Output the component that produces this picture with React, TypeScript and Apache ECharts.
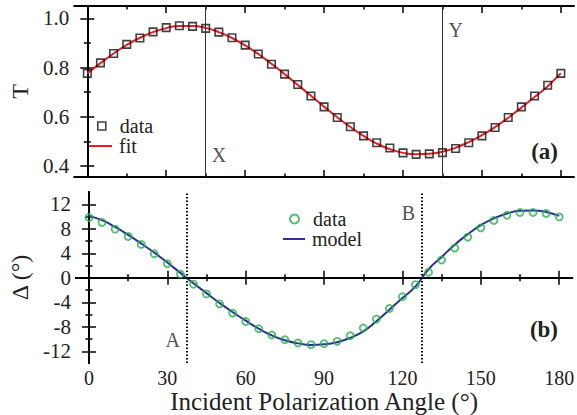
import React, { useEffect, useRef } from "react";
import * as echarts from "echarts";

const angles: number[] = [0,5,10,15,20,25,30,35,40,45,50,55,60,65,70,75,80,85,90,95,100,105,110,115,120,125,130,135,140,145,150,155,160,165,170,175,180];

const tData: number[] = [0.776,0.819,0.857,0.894,0.920,0.945,0.962,0.970,0.967,0.959,0.944,0.921,0.891,0.855,0.813,0.773,0.731,0.684,0.640,0.597,0.559,0.522,0.494,0.473,0.453,0.447,0.449,0.454,0.471,0.494,0.522,0.556,0.597,0.640,0.684,0.728,0.776];
const tFit: number[] = [0.776,0.818,0.857,0.892,0.921,0.944,0.960,0.969,0.969,0.961,0.944,0.920,0.890,0.855,0.815,0.773,0.729,0.685,0.641,0.598,0.558,0.522,0.491,0.468,0.453,0.447,0.449,0.458,0.474,0.497,0.525,0.558,0.596,0.637,0.680,0.724,0.777];

const dData: number[] = [9.83,9.02,7.94,6.75,5.45,3.93,2.30,0.57,-1.05,-2.63,-4.25,-5.76,-7.13,-8.31,-9.34,-10.1,-10.64,-10.9,-10.75,-10.37,-9.45,-8.2,-6.74,-5.0,-3.1,-1.11,0.9,2.9,4.85,6.64,8.15,9.35,10.2,10.65,10.65,10.49,9.94];
const dModel: number[] = [10.1,9.4,8.3,7.0,5.6,4.1,2.5,0.8,-0.9,-2.5,-4.1,-5.6,-7.0,-8.3,-9.4,-10.2,-10.7,-10.95,-10.85,-10.5,-9.8,-8.75,-7.1,-5.2,-3.3,-1.4,1.4,3.4,5.4,7.1,8.6,9.7,10.5,10.95,11.0,10.75,10.1];

const xMajor: number[] = [0,30,60,90,120,150,180];
const xMinor: number[] = [15,45,75,105,135,165];
const tMajor: number[] = [0.4,0.6,0.8,1.0];
const tMinor: number[] = [0.5,0.7,0.9];
const dMajor: number[] = [-12,-8,-4,0,4,8,12];
const dMinor: number[] = [-10,-6,-2,2,6,10];

const markersTop = [
  { name: "X", angle: 45, labelY: 0.443 },
  { name: "Y", angle: 135, labelY: 0.952 },
];
const markersBottom = [
  { name: "A", angle: 37.5, labelY: -10.1 },
  { name: "B", angle: 127.5, labelY: 10.5 },
];

const FONT = "Liberation Serif";

export default function App() {
  const ref = useRef<HTMLDivElement>(null);
  useEffect(() => {
    if (!ref.current) return;
    const chart = echarts.init(ref.current, undefined, { renderer: "svg" });

    const mkX = (grid: number, pos: "bottom" | "top", major: boolean, labels: boolean) => ({
      type: "value",
      gridIndex: grid,
      position: pos,
      min: -5,
      max: 185,
      axisLine: { show: major, lineStyle: { color: "#000", width: 2 } },
      axisTick: {
        show: true,
        inside: true,
        length: major ? 7 : 3.5,
        lineStyle: { color: "#000", width: 1.5 },
        customValues: major ? xMajor : xMinor,
      },
      axisLabel: {
        show: labels,
        customValues: xMajor,
        margin: 5,
        color: "#222",
        fontFamily: FONT,
        fontSize: 20,
      },
      splitLine: { show: false },
      ...(labels
        ? {
            name: "Incident Polarization Angle (°)",
            nameLocation: "middle",
            nameGap: 11,
            nameTextStyle: { fontFamily: FONT, fontSize: 25, color: "#222" },
          }
        : {}),
    });

    const mkY = (
      grid: number,
      pos: "left" | "right",
      major: boolean,
      labels: boolean,
      min: number,
      max: number,
      majV: number[],
      minV: number[],
      name?: string,
      fmt?: (v: number) => string
    ) => ({
      type: "value",
      gridIndex: grid,
      position: pos,
      min,
      max,
      axisLine: { show: major, lineStyle: { color: "#000", width: 2 } },
      axisTick: {
        show: true,
        inside: true,
        length: major ? 7 : 3.5,
        lineStyle: { color: "#000", width: 1.5 },
        customValues: major ? majV : minV,
      },
      axisLabel: {
        show: labels,
        customValues: majV,
        margin: 5,
        color: "#222",
        fontFamily: FONT,
        fontSize: 21,
        formatter: fmt,
      },
      splitLine: { show: false },
      ...(name
        ? {
            name,
            nameLocation: "middle",
            nameGap: 35,
            nameTextStyle: { fontFamily: FONT, fontSize: 24, color: "#222" },
          }
        : {}),
    });

    const tFmt = (v: number) => v.toFixed(1);
    const dFmt = (v: number) => String(Math.round(v));

    const pairs = (ys: number[]) => angles.map((a, i) => [a, ys[i]]);

    const markerLabelSeries = (
      xi: number,
      yi: number,
      items: { name: string; angle: number; labelY: number }[],
      positions: string[],
      distances: number[]
    ) =>
      items.map((m, k) => ({
        type: "scatter",
        xAxisIndex: xi,
        yAxisIndex: yi,
        symbolSize: 0,
        silent: true,
        data: [[m.angle, m.labelY]],
        label: {
          show: true,
          position: positions[k],
          distance: distances[k],
          formatter: m.name,
          fontFamily: FONT,
          fontSize: 20,
          color: "#222",
        },
      }));

    const legendText = (pad: number) => ({
      fontFamily: FONT,
      fontSize: 20,
      color: "#222",
      lineHeight: 20,
      padding: [0, 0, 0, pad],
    });

    const option: any = {
      animation: false,
      backgroundColor: "#fff",
      textStyle: { fontFamily: FONT },
      grid: [
        { left: 68, top: 6, width: 506, height: 171 },
        { left: 68, top: 192, width: 506, height: 171 },
      ],
      xAxis: [
        mkX(0, "bottom", true, false),
        mkX(0, "bottom", false, false),
        mkX(0, "top", true, false),
        mkX(0, "top", false, false),
        mkX(1, "bottom", true, true),
        mkX(1, "bottom", false, false),
        mkX(1, "top", true, false),
        mkX(1, "top", false, false),
      ],
      yAxis: [
        mkY(0, "left", true, true, 0.355, 1.05, tMajor, tMinor, "T", tFmt),
        mkY(0, "left", false, false, 0.355, 1.05, tMajor, tMinor),
        mkY(0, "right", true, false, 0.355, 1.05, tMajor, tMinor),
        mkY(0, "right", false, false, 0.355, 1.05, tMajor, tMinor),
        mkY(1, "left", true, true, -13.9, 14, dMajor, dMinor, "Δ (°)", dFmt),
        mkY(1, "left", false, false, -13.9, 14, dMajor, dMinor),
        mkY(1, "right", true, false, -13.9, 14, dMajor, dMinor),
        mkY(1, "right", false, false, -13.9, 14, dMajor, dMinor),
      ],
      legend: [
        {
          data: [{ name: "dataT", icon: "rect", itemStyle: { color: "#fff", borderColor: "#111", borderWidth: 1.6 } }],
          left: 97,
          top: 116,
          padding: 0,
          itemWidth: 8,
          itemHeight: 8,
          formatter: () => "data",
          selectedMode: false,
          textStyle: legendText(9),
        },
        {
          data: [{ name: "fit", icon: "rect", itemStyle: { color: "#ed1c24", borderWidth: 0 } }],
          left: 89,
          top: 136,
          padding: 0,
          itemWidth: 23,
          itemHeight: 2,
          selectedMode: false,
          textStyle: legendText(2),
        },
        {
          data: [{ name: "dataD", icon: "circle", itemStyle: { color: "#fff", borderColor: "#22b14c", borderWidth: 2 } }],
          left: 289,
          top: 209,
          padding: 0,
          itemWidth: 9,
          itemHeight: 9,
          formatter: () => "data",
          selectedMode: false,
          textStyle: legendText(9),
        },
        {
          data: [{ name: "model", icon: "rect", itemStyle: { color: "#2e3192", borderWidth: 0 } }],
          left: 283,
          top: 229,
          padding: 0,
          itemWidth: 22,
          itemHeight: 2,
          selectedMode: false,
          textStyle: legendText(2),
        },
      ],
      graphic: [
        {
          type: "text",
          right: 19,
          top: 140,
          style: { text: "(a)", fontFamily: FONT, fontSize: 23, fontWeight: "bold", fill: "#222" },
        },
        {
          type: "text",
          right: 19,
          top: 318,
          style: { text: "(b)", fontFamily: FONT, fontSize: 23, fontWeight: "bold", fill: "#222" },
        },
      ],
      series: [
        {
          name: "fit",
          type: "line",
          xAxisIndex: 0,
          yAxisIndex: 0,
          data: pairs(tFit),
          smooth: true,
          symbol: "none",
          lineStyle: { color: "#ed1c24", width: 2 },
          itemStyle: { color: "#ed1c24" },
          z: 3,
          markLine: {
            silent: true,
            symbol: "none",
            label: { show: false },
            lineStyle: { color: "#333", width: 1, type: "solid" },
            data: markersTop.map((m) => ({ xAxis: m.angle })),
          },
        },
        {
          name: "dataT",
          type: "scatter",
          xAxisIndex: 0,
          yAxisIndex: 0,
          data: pairs(tData),
          symbol: "rect",
          symbolSize: 7.5,
          itemStyle: { color: "rgba(255,255,255,0)", borderColor: "#111", borderWidth: 1.6 },
          z: 4,
        },
        ...markerLabelSeries(0, 0, markersTop, ["right", "right"], [6, 6]),
        {
          name: "model",
          type: "line",
          xAxisIndex: 4,
          yAxisIndex: 4,
          data: pairs(dModel),
          smooth: true,
          symbol: "none",
          lineStyle: { color: "#2e3192", width: 2 },
          itemStyle: { color: "#2e3192" },
          z: 3,
          markLine: {
            silent: true,
            symbol: "none",
            label: { show: false },
            data: [
              { yAxis: 0, lineStyle: { color: "#000", width: 1, type: [5, 4] } },
              ...markersBottom.map((m) => ({
                xAxis: m.angle,
                lineStyle: { color: "#000", width: 2, type: [1.5, 2] },
              })),
            ],
          },
        },
        {
          name: "dataD",
          type: "scatter",
          xAxisIndex: 4,
          yAxisIndex: 4,
          data: pairs(dData),
          symbol: "circle",
          symbolSize: 7,
          itemStyle: { color: "rgba(255,255,255,0)", borderColor: "#22b14c", borderWidth: 1.8 },
          z: 4,
        },
        ...markerLabelSeries(4, 4, markersBottom, ["left", "left"], [7, 7]),
      ],
    };

    chart.setOption(option);
    return () => chart.dispose();
  }, []);

  return (
    <div
      ref={ref}
      style={{ position: "absolute", left: 0, top: 0, width: 577, height: 415, background: "#fff" }}
    />
  );
}
